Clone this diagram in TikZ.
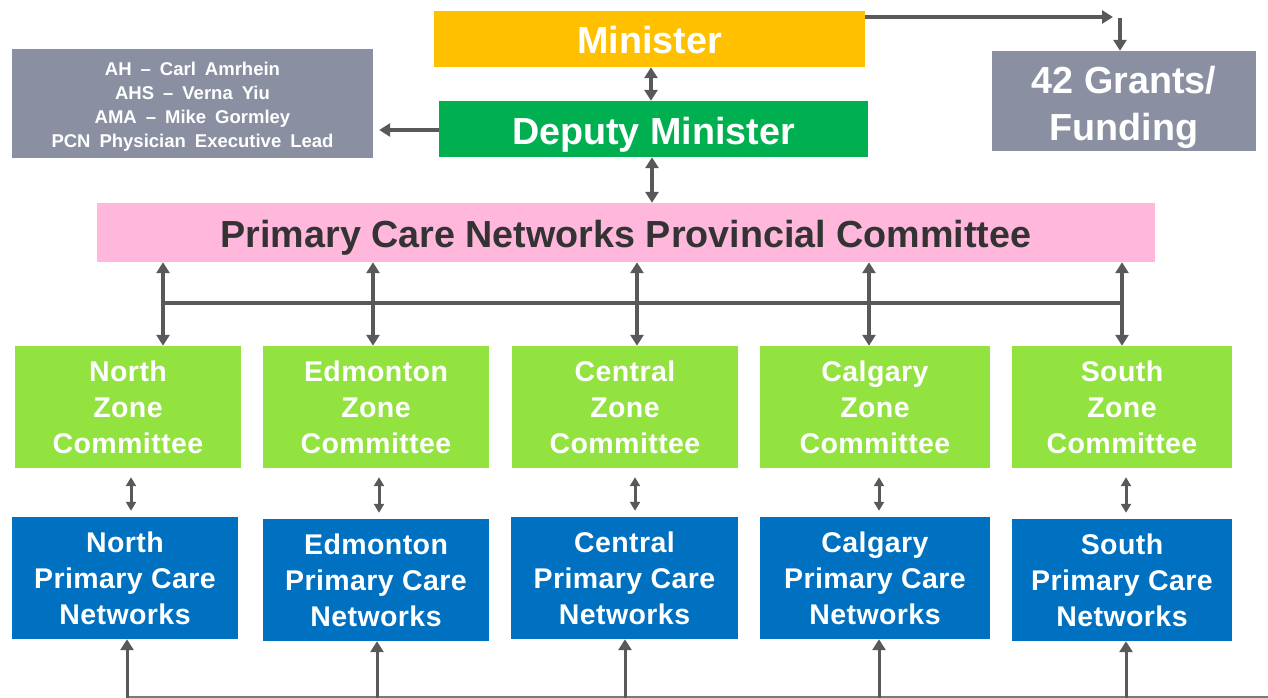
\documentclass[tikz,border=0pt]{standalone}
\usepackage{fontspec}
\setmainfont{Liberation Sans}
\usetikzlibrary{arrows.meta}
\definecolor{minY}{HTML}{FFC000}
\definecolor{depG}{HTML}{00B050}
\definecolor{grayB}{HTML}{8A90A2}
\definecolor{pinkB}{HTML}{FFB7DC}
\definecolor{zoneG}{HTML}{92E33F}
\definecolor{blueB}{HTML}{0070C0}
\definecolor{lineC}{HTML}{595959}
\definecolor{txtD}{HTML}{333333}
\newcommand\lowertext[2]{\raisebox{-#1}[\height][\depth]{#2}}
\tikzset{
  box/.style={rectangle, inner sep=0pt, text=white, font=\bfseries, align=center},
  conn/.style={draw=lineC, line width=3.5pt},
  dbl/.style={conn, {Triangle[width=13pt,length=11pt]}-{Triangle[width=13pt,length=11pt]}},
  sdbl/.style={conn, line width=3pt, {Triangle[width=10pt,length=9pt]}-{Triangle[width=10pt,length=9pt]}},
  one/.style={conn, -{Triangle[width=13pt,length=11pt]}},
  bigfont/.style={font=\fontsize{37.7}{47}\selectfont\bfseries},
  zonefont/.style={font=\fontsize{28.5}{36}\selectfont\bfseries\addfontfeatures{LetterSpace=1.5}},
}
\begin{document}
\begin{tikzpicture}[x=1pt,y=-1pt]
\useasboundingbox (0,0) rectangle (1268,698);
% top boxes
\node[box, fill=minY, bigfont, minimum width=431pt, minimum height=56pt] (min) at (649.5,39) {\lowertext{1.5pt}{Minister}};
\node[box, fill=depG, bigfont, minimum width=429pt, minimum height=56pt] (dep) at (653.5,129) {\lowertext{6pt}{Deputy Minister}};
\node[box, fill=grayB, minimum width=361pt, minimum height=109pt, font=\fontsize{18.5}{24}\selectfont\bfseries] (lead) at (192.5,103.5) {\lowertext{3pt}{\parbox{350pt}{\spaceskip=9pt plus 2pt minus 2pt\centering AH -- Carl Amrhein\\AHS -- Verna Yiu\\AMA -- Mike Gormley\\PCN Physician Executive Lead}}};
\node[box, fill=grayB, bigfont, minimum width=264pt, minimum height=100pt] (grant) at (1124,101) {\lowertext{6pt}{\parbox{260pt}{\centering 42 Grants/\\Funding}}};
\node[box, fill=pinkB, text=txtD, bigfont, minimum width=1058pt, minimum height=59pt] (pcn) at (626,232.5) {\lowertext{5.5pt}{Primary Care Networks Provincial Committee}};
% zone committees
\foreach \n/\cx/\w/\t in {zn/128/226/North, ze/376/226/Edmonton, zc/625/226/Central, zg/875/230/Calgary, zs/1122/220/South}{
  \node[box, fill=zoneG, zonefont, minimum width=\w pt, minimum height=122pt] (\n) at (\cx,407) {\t\\Zone\\Committee};
}
% networks
\foreach \n/\cx/\cy/\w/\t in {bn/125/578/226/North, be/376/580/226/Edmonton, bc/624.5/578/227/Central, bg/875/578/230/Calgary, bs/1122/580/220/South}{
  \node[box, fill=blueB, zonefont, minimum width=\w pt, minimum height=122pt] (\n) at (\cx,\cy) {\t\\Primary Care\\Networks};
}
% top connectors
\draw[dbl] (min.south -| 651,0) -- (dep.north -| 651,0);
\draw[dbl] (dep.south -| 652,0) -- (pcn.north -| 652,0);
\draw[one, shorten >=6pt] (dep.west |- 0,130) -- (lead.east |- 0,130);
\coordinate (gend) at (1113,17);
\coordinate (gturn) at (1120,18);
\draw[one] (min.east |- 0,17) -- (gend);
\draw[one] (gturn) -- (grant.north -| 1120,0);
% bus
\coordinate (busL) at (163,303);
\coordinate (busR) at (1122,303);
\draw[conn] (busL) -- (busR);
\foreach \x/\z in {163/zn, 373/ze, 637/zc, 869/zg, 1122/zs}{
  \draw[dbl] (pcn.south -| \x,0) -- (\z.north -| \x,0);
}
% zone to networks
\foreach \x/\z/\b in {131/zn/bn, 379/ze/be, 635/zc/bc, 879/zg/bg, 1126/zs/bs}{
  \draw[sdbl] ([yshift=-9pt]\z.south -| \x,0) -- ([yshift=6pt]\b.north -| \x,0);
}
% bottom
\coordinate (botL) at (127,697);
\coordinate (botR) at (1268,697);
\draw[draw=lineC!80, line width=2pt] (botL) -- (botR);
\foreach \x/\b in {127/bn, 377/be, 625/bc, 879/bg, 1126/bs}{
  \draw[one, line width=3pt] (\x,698) -- (\b.south -| \x,0);
}
\end{tikzpicture}
\end{document}
